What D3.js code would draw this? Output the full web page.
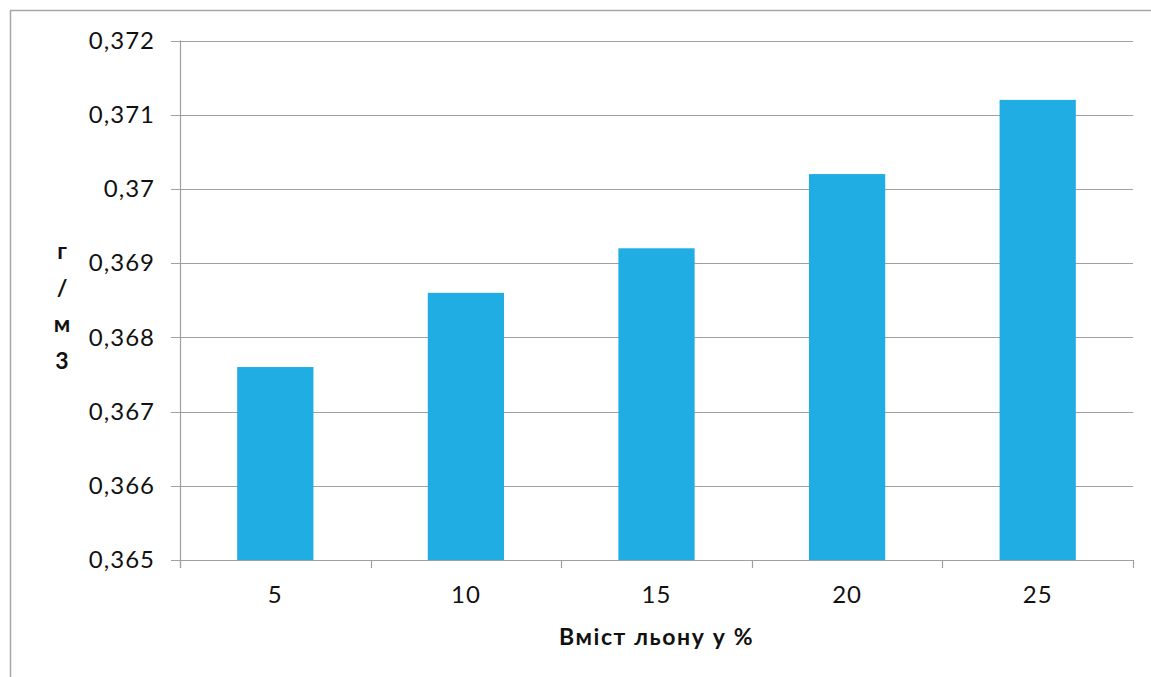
<!DOCTYPE html>
<html>
<head>
<meta charset="utf-8">
<script src="https://cdn.jsdelivr.net/npm/d3@7"></script>
<style>
  body { margin: 0; background: #fff; }
  svg { display: block; }
  text { font-family: Lato, "Open Sans", sans-serif; }
</style>
</head>
<body>
<svg id="chart" width="1151" height="677"></svg>
<script>
const categories = ["5", "10", "15", "20", "25"];
const values = [0.3676, 0.3686, 0.3692, 0.3702, 0.3712];
const yTicks = [0.365, 0.366, 0.367, 0.368, 0.369, 0.37, 0.371, 0.372];
const yTickLabels = ["0,365", "0,366", "0,367", "0,368", "0,369", "0,37", "0,371", "0,372"];
const yTitleChars = ["г", "/", "м", "3"];
const xTitle = "Вміст льону у %";

const svg = d3.select("#chart");
const W = 1151, H = 677;
const m = { left: 180, right: 1133, top: 40.5, bottom: 560 };

// outer frame
svg.append("rect").attr("x", 10.5).attr("y", 10.5).attr("width", W).attr("height", H)
  .attr("fill", "none").attr("stroke", "#a6a6a6").attr("stroke-width", 1.5);

const x = d3.scaleBand().domain(categories).range([m.left, m.right]).paddingInner(0.6).paddingOuter(0.3);
const y = d3.scaleLinear().domain([0.365, 0.372]).range([m.bottom, m.top]);

// gridlines
svg.append("g").selectAll("line").data(yTicks.slice(1)).join("line")
  .attr("x1", m.left - 9).attr("x2", m.right)
  .attr("y1", d => Math.round(y(d)) + 0.5).attr("y2", d => Math.round(y(d)) + 0.5)
  .attr("stroke", "#a0a0a0").attr("stroke-width", 1.2);

// bars
svg.append("g").selectAll("rect").data(values).join("rect")
  .attr("x", (d, i) => x(categories[i]))
  .attr("width", x.bandwidth())
  .attr("y", d => y(d))
  .attr("height", d => y(0.365) - y(d))
  .attr("fill", "#1FADE3");

// y axis line
svg.append("line").attr("x1", m.left + 0.5).attr("x2", m.left + 0.5)
  .attr("y1", m.top).attr("y2", m.bottom + 8)
  .attr("stroke", "#a0a0a0").attr("stroke-width", 1.2);

// x axis
const xAxis = d3.axisBottom(x).tickSize(0).tickFormat(d => d);
const gx = svg.append("g").attr("transform", `translate(0,${m.bottom})`).call(xAxis);
gx.select(".domain").remove();
gx.selectAll("text").attr("font-size", 24).attr("letter-spacing", 1).attr("fill", "#111").attr("y", 43).attr("dy", 0);
svg.append("line").attr("x1", m.left - 9).attr("x2", m.right)
  .attr("y1", m.bottom + 0.5).attr("y2", m.bottom + 0.5)
  .attr("stroke", "#a0a0a0").attr("stroke-width", 1.2);
// category boundary ticks
const bounds = d3.range(categories.length + 1).map(i => m.left + (m.right - m.left) * i / categories.length);
svg.append("g").selectAll("line").data(bounds).join("line")
  .attr("x1", d => Math.round(d) + 0.5).attr("x2", d => Math.round(d) + 0.5)
  .attr("y1", m.bottom).attr("y2", m.bottom + 8)
  .attr("stroke", "#a0a0a0").attr("stroke-width", 1.2);

// y tick labels
const yAxis = d3.axisLeft(y).tickValues(yTicks).tickSize(0).tickFormat((d, i) => yTickLabels[i]);
const gy = svg.append("g").attr("transform", `translate(${m.left - 25},0)`).call(yAxis);
gy.select(".domain").remove();
gy.selectAll("text").attr("font-size", 24).attr("letter-spacing", 1).attr("fill", "#111").attr("text-anchor", "end").attr("x", 0);

// y title stacked
svg.append("g").selectAll("text").data(yTitleChars).join("text")
  .attr("x", 62).attr("y", (d, i) => 259 + i * 36.5)
  .attr("text-anchor", "middle").attr("font-size", 23).attr("font-weight", "bold").attr("fill", "#111")
  .text(d => d);

// x title
svg.append("text").attr("x", (m.left + m.right) / 2).attr("y", 645)
  .attr("text-anchor", "middle").attr("font-size", 23).attr("letter-spacing", 1.6).attr("font-weight", "bold").attr("fill", "#111")
  .text(xTitle);
</script>
</body>
</html>
